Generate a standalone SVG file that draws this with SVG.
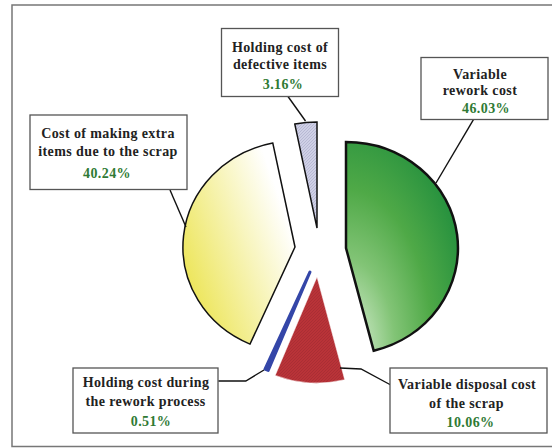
<svg xmlns="http://www.w3.org/2000/svg" width="552" height="448" viewBox="0 0 552 448">
<style>
.box{fill:#fff;stroke:#555;stroke-width:1.3}
.t{font-family:"Liberation Serif","Times New Roman",serif;font-weight:bold;font-size:14px;letter-spacing:0.4px;fill:#222;text-anchor:middle}
.p{fill:#2f7a34}
.lead{fill:none;stroke:#111;stroke-width:1.4}
</style>
<defs>
<radialGradient id="gGreen" cx="0" cy="1" r="1.25" fx="0" fy="1">
<stop offset="0" stop-color="#e4f4e0"/>
<stop offset="0.35" stop-color="#82c476"/>
<stop offset="0.62" stop-color="#4fa947"/>
<stop offset="1" stop-color="#1c8b3c"/>
</radialGradient>
<linearGradient id="gYellow" x1="0" y1="0.8" x2="0.85" y2="0.25">
<stop offset="0" stop-color="#ebe34a"/>
<stop offset="1" stop-color="#ffffff"/>
</linearGradient>
<pattern id="hatch" width="3" height="3" patternUnits="userSpaceOnUse">
<rect width="3" height="3" fill="#b93338"/>
<path d="M0,3 L3,0" stroke="#a02a30" stroke-width="0.6"/>
</pattern>
<pattern id="hatchL" width="3" height="3" patternUnits="userSpaceOnUse">
<rect width="3" height="3" fill="#cfd0e6"/>
<path d="M0,3 L3,0" stroke="#a8a9c8" stroke-width="0.6"/>
</pattern>
</defs>
<rect x="12" y="5" width="560" height="441.5" fill="#fff" stroke="#777" stroke-width="1.5"/>
<g id="slices">
<path id="slice-green" d="M346,248 L346,142 A112,106 0 0 1 373.7,350.7 Z" fill="url(#gGreen)" stroke="#111" stroke-width="2.5" stroke-linejoin="miter"/>
<path id="slice-red" d="M317,277 L344.7,379.7 A112,106 0 0 1 275.2,375.4 Z" fill="url(#hatch)" stroke="#fff" stroke-width="0.5"/>
<path id="slice-blue" d="M310,272 L268.2,370.4 L265,369.1 Z" fill="#3446a8" stroke="#3446a8" stroke-width="3" stroke-linejoin="round"/>
<path id="slice-yellow" d="M295,247 L250,344.1 A112,106 0 0 1 272.8,143.1 Z" fill="url(#gYellow)" stroke="#111" stroke-width="1.5"/>
<path id="slice-lavender" d="M317,228 L294.8,124.1 A112,106 0 0 1 317,122 Z" fill="url(#hatchL)" stroke="#111" stroke-width="1.5"/>
</g>
<g id="connectors">
<path class="lead" d="M288,96.5 L305.5,121"/>
<path class="lead" d="M473.6,119.3 L436,183"/>
<path class="lead" d="M170,190 L186,227"/>
<path class="lead" d="M218.3,381 L245.8,381 L264,370"/>
<path class="lead" d="M340,368 L361,369 L390.8,385"/>
</g>
<g id="node-holding-defective">
<rect class="box" x="221.5" y="28.5" width="117" height="68"/>
<text class="t" x="280" y="52">Holding cost of</text>
<text class="t" x="280" y="69">defective items</text>
<text class="t p" x="283" y="88.5">3.16%</text>
</g>
<g id="node-variable-rework">
<rect class="box" x="421" y="57.5" width="127" height="62"/>
<text class="t" x="480" y="78.5">Variable</text>
<text class="t" x="480" y="95">rework cost</text>
<text class="t p" x="486" y="112.5">46.03%</text>
</g>
<g id="node-extra-items">
<rect class="box" x="30" y="115" width="157" height="74.5"/>
<text class="t" x="108" y="137.5">Cost of making extra</text>
<text class="t" x="108" y="156">items due to the scrap</text>
<text class="t p" x="107" y="177.5">40.24%</text>
</g>
<g id="node-holding-rework">
<rect class="box" x="73" y="368" width="145" height="65"/>
<text class="t" x="146" y="386.5">Holding cost during</text>
<text class="t" x="145.5" y="406">the rework process</text>
<text class="t p" x="151" y="426">0.51%</text>
</g>
<g id="node-disposal">
<rect class="box" x="390" y="368" width="157" height="65"/>
<text class="t" x="467" y="388.5">Variable disposal cost</text>
<text class="t" x="466.5" y="408">of the scrap</text>
<text class="t p" x="470.5" y="427">10.06%</text>
</g>
</svg>
